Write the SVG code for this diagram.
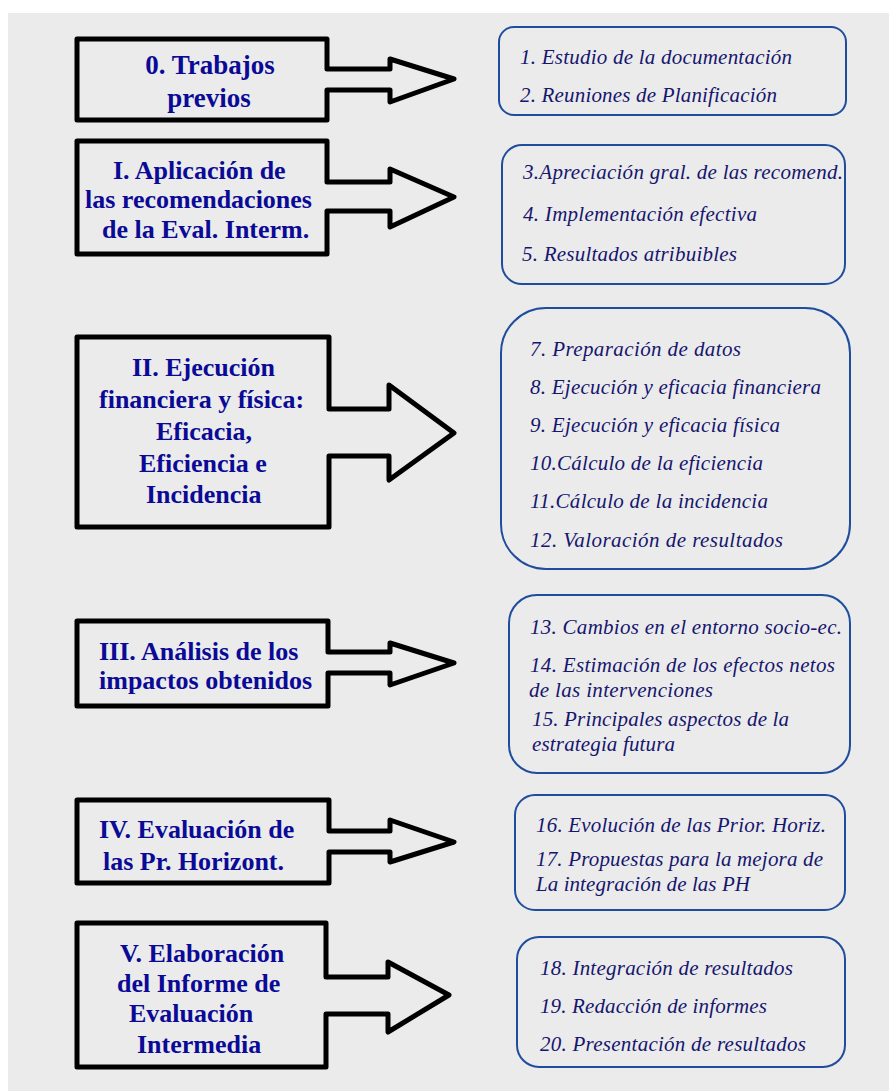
<svg xmlns="http://www.w3.org/2000/svg" width="889" height="1091" viewBox="0 0 889 1091">
<style>
.bg{fill:#ebebeb}
.ab{fill:none;stroke:#000;stroke-width:5;stroke-linejoin:round}
.rb{fill:none;stroke:#1f4d9e;stroke-width:2}
.bt{font-family:"Liberation Serif","Times New Roman",serif;font-weight:bold;font-size:26px;fill:#0a0a96}
.it{font-family:"Liberation Serif","Times New Roman",serif;font-style:italic;font-size:21px;fill:#16166e}
</style>
<rect class="bg" x="8" y="13" width="881" height="1078"/>
<g id="connectors"></g>
<g id="node-0">
<path class="ab" d="M77,39 H327 V69 H390 V59 L454,79 L390,102 V90 H327 V120 H77 Z"/>
<text class="bt" style="font-size:27px" x="210" y="74" text-anchor="middle">0. Trabajos</text>
<text class="bt" style="font-size:27px" x="209" y="107" text-anchor="middle">previos</text>
</g>
<g id="list-0">
<rect class="rb" x="499" y="27" width="347" height="88" rx="15"/>
<text class="it" x="520" y="64" textLength="272" lengthAdjust="spacing">1. Estudio de la documentación</text>
<text class="it" x="520" y="102" textLength="257" lengthAdjust="spacing">2. Reuniones de Planificación</text>
</g>
<g id="node-1">
<path class="ab" d="M77,141 H327 V182 H390 V169 L454,197 L390,227 V211 H327 V254 H77 Z"/>
<text class="bt" x="113" y="179">I. Aplicación de</text>
<text class="bt" x="85" y="208">las recomendaciones</text>
<text class="bt" x="102" y="238">de la Eval. Interm.</text>
</g>
<g id="list-1">
<rect class="rb" x="502" y="145" width="343" height="139" rx="20"/>
<text class="it" x="523" y="179" textLength="320" lengthAdjust="spacing">3.Apreciación gral. de las recomend.</text>
<text class="it" x="523" y="221" textLength="234" lengthAdjust="spacing">4. Implementación efectiva</text>
<text class="it" x="522" y="261" textLength="215" lengthAdjust="spacing">5. Resultados atribuibles</text>
</g>
<g id="node-2">
<path class="ab" d="M77,337 H329 V409 H389 V385 L454,433 L389,480 V456 H329 V527 H77 Z"/>
<text class="bt" x="132" y="376">II. Ejecución</text>
<text class="bt" x="99" y="408">financiera y física:</text>
<text class="bt" x="156" y="440">Eficacia,</text>
<text class="bt" x="139" y="472">Eficiencia e</text>
<text class="bt" x="146" y="503">Incidencia</text>
</g>
<g id="list-2">
<rect class="rb" x="501" y="308" width="349" height="261" rx="45"/>
<text class="it" x="530" y="356" textLength="211" lengthAdjust="spacing">7. Preparación de datos</text>
<text class="it" x="530" y="394" textLength="291" lengthAdjust="spacing">8. Ejecución y eficacia financiera</text>
<text class="it" x="530" y="432" textLength="250" lengthAdjust="spacing">9. Ejecución y eficacia física</text>
<text class="it" x="530" y="470" textLength="233" lengthAdjust="spacing">10.Cálculo de la eficiencia</text>
<text class="it" x="530" y="508" textLength="238" lengthAdjust="spacing">11.Cálculo de la incidencia</text>
<text class="it" x="530" y="547" textLength="253" lengthAdjust="spacing">12. Valoración de resultados</text>
</g>
<g id="node-3">
<path class="ab" d="M77,621 H328 V652 H390 V643 L454,663 L390,685 V673 H328 V706 H77 Z"/>
<text class="bt" x="99" y="660">III. Análisis de los</text>
<text class="bt" x="99" y="689">impactos obtenidos</text>
</g>
<g id="list-3">
<rect class="rb" x="509" y="595" width="341" height="178" rx="28"/>
<text class="it" x="530" y="634" textLength="312" lengthAdjust="spacing">13. Cambios en el entorno socio-ec.</text>
<text class="it" x="530" y="672" textLength="305" lengthAdjust="spacing">14. Estimación de los efectos netos</text>
<text class="it" x="529" y="697" textLength="184" lengthAdjust="spacing">de las intervenciones</text>
<text class="it" x="532" y="726" textLength="257" lengthAdjust="spacing">15. Principales aspectos de la</text>
<text class="it" x="532" y="751" textLength="143" lengthAdjust="spacing">estrategia futura</text>
</g>
<g id="node-4">
<path class="ab" d="M77,800 H329 V831 H390 V820 L454,842 L390,862 V852 H329 V883 H77 Z"/>
<text class="bt" x="99" y="838">IV. Evaluación de</text>
<text class="bt" x="103" y="870">las Pr. Horizont.</text>
</g>
<g id="list-4">
<rect class="rb" x="515" y="795" width="330" height="115" rx="20"/>
<text class="it" x="536" y="832" textLength="290" lengthAdjust="spacing">16. Evolución de las Prior. Horiz.</text>
<text class="it" x="536" y="866" textLength="287" lengthAdjust="spacing">17. Propuestas para la mejora de</text>
<text class="it" x="536" y="891" textLength="214" lengthAdjust="spacing">La integración de las PH</text>
</g>
<g id="node-5">
<path class="ab" d="M77,923 H326 V977 H388 V962 L449,995 L388,1032 V1014 H326 V1067 H77 Z"/>
<text class="bt" x="120" y="962">V. Elaboración</text>
<text class="bt" x="117" y="992">del Informe de</text>
<text class="bt" x="129" y="1022">Evaluación</text>
<text class="bt" x="137" y="1053">Intermedia</text>
</g>
<g id="list-5">
<rect class="rb" x="517" y="937" width="328" height="130" rx="22"/>
<text class="it" x="540" y="975" textLength="253" lengthAdjust="spacing">18. Integración de resultados</text>
<text class="it" x="540" y="1013" textLength="227" lengthAdjust="spacing">19. Redacción de informes</text>
<text class="it" x="540" y="1051" textLength="266" lengthAdjust="spacing">20. Presentación de resultados</text>
</g>
</svg>
